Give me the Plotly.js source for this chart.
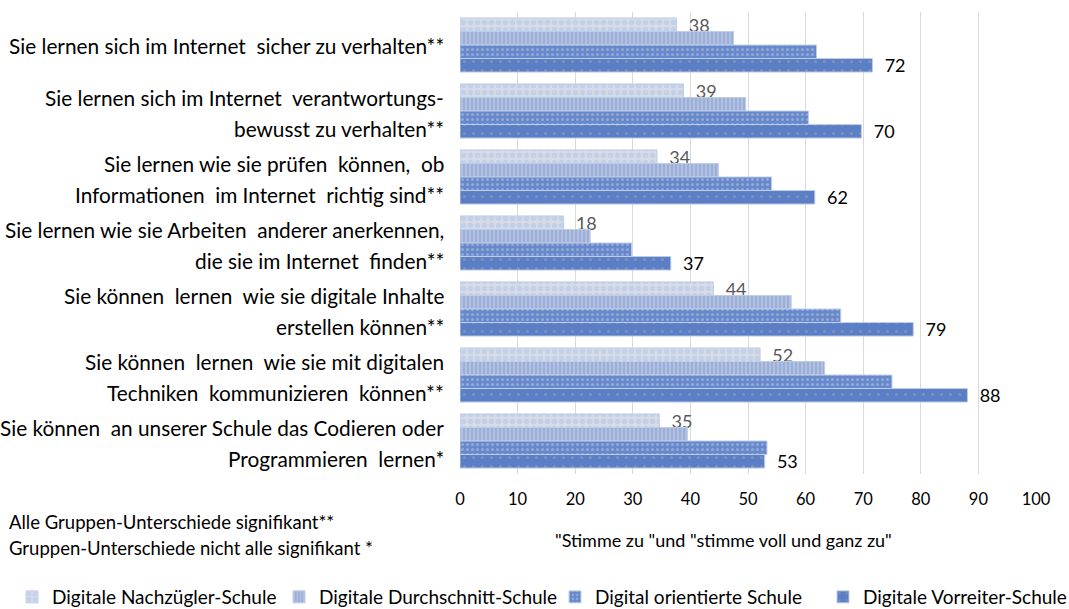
<!DOCTYPE html>
<html>
<head>
<meta charset="utf-8">
<script src="https://cdn.plot.ly/plotly-3.0.1.min.js"></script>
<style>html,body{margin:0;padding:0;background:#fff;}#chart{width:1069px;height:609px;}</style>
</head>
<body>
<div id="chart"></div>
<script>
const categories = [
  "Sie lernen sich im Internet  sicher zu verhalten**",
  "Sie lernen sich im Internet  verantwortungs-<br>bewusst zu verhalten**",
  "Sie lernen wie sie prüfen  können,  ob<br>Informationen  im Internet  richtig sind**",
  "Sie lernen wie sie Arbeiten  anderer anerkennen,<br>die sie im Internet  finden**",
  "Sie können  lernen  wie sie digitale Inhalte<br>erstellen können**",
  "Sie können  lernen  wie sie mit digitalen<br>Techniken  kommunizieren  können**",
  "Sie können  an unserer Schule das Codieren oder<br>Programmieren  lernen*"
];
const seriesNames = ["Digitale Nachzügler-Schule", "Digitale Durchschnitt-Schule", "Digital orientierte Schule", "Digitale Vorreiter-Schule"];
const nachzuegler   = [37.6, 38.8, 34.2, 18.0, 44.0, 52.1, 34.6];
const durchschnitt  = [47.5, 49.6, 44.9, 22.6, 57.5, 63.3, 39.5];
const orientiert    = [61.9, 60.5, 54.1, 29.8, 66.1, 75.0, 53.3];
const vorreiter     = [71.6, 69.7, 61.6, 36.6, 78.7, 88.1, 52.9];
const xTickVals = [0, 10, 20, 30, 40, 50, 60, 70, 80, 90, 100];
const xAxisTitle = '"Stimme zu "und "stimme voll und ganz zu"';
const notes = ["Alle Gruppen-Unterschiede signifikant**", "Gruppen-Unterschiede nicht alle signifikant *"];

const FONT = "Lato, 'Open Sans', sans-serif";
const lineCol = 'rgba(190,205,232,1)';

function mk(name, vals, bg, fg, shape, size, sol, showText, textCol, legendId) {
  return {
    type: 'bar', orientation: 'h', name: name, legend: legendId,
    x: vals, y: categories,
    marker: {color: bg, line: {color: lineCol, width: 1},
      pattern: {shape: shape, bgcolor: bg, fgcolor: fg, size: size, solidity: sol}},
    texttemplate: showText ? '\u00a0\u00a0%{x:.0f}' : undefined,
    textposition: showText ? 'outside' : 'none',
    constraintext: 'none',
    cliponaxis: false,
    textfont: {family: FONT, size: 18, color: textCol},
    hoverinfo: 'x+name'
  };
}

const data = [
  mk(seriesNames[0], nachzuegler, '#d7dce5', '#c3d0ea', '.', 7, 0.5, true, '#595959', 'legend'),
  mk(seriesNames[1], durchschnitt, '#9cafd8', '#bcc8e3', '|', 4, 0.35, false, '#000', 'legend2'),
  mk(seriesNames[2], orientiert, '#6688cc', '#93a8d4', '.', 5, 0.3, false, '#000', 'legend3'),
  mk(seriesNames[3], vorreiter, '#5a7fc7', '#8090b4', '.', 9, 0.1, true, '#000000', 'legend4')
];

// plot area: left 460, right 1036, top 12, bottom 474 (pixels)
const px2paperX = p => (p - 460) / 576;
const px2paperY = p => (474 - p) / 462;

const annotations = [];
categories.forEach((c, i) => {
  const lines = c.split('<br>');
  const shifts = lines.length === 1 ? [0] : [14, -17];
  lines.forEach((ln, j) => {
    annotations.push({
      xref: 'paper', yref: 'y', x: 0, y: c, xshift: -14, yshift: shifts[j],
      xanchor: 'right', yanchor: 'middle', showarrow: false,
      text: ln, font: {family: FONT, size: 20.8, color: '#000'}
    });
  });
});
annotations.push({xref: 'paper', yref: 'paper', x: px2paperX(7), y: px2paperY(522),
  xanchor: 'left', yanchor: 'middle', showarrow: false, text: notes[0],
  font: {family: FONT, size: 18.5, color: '#000'}});
annotations.push({xref: 'paper', yref: 'paper', x: px2paperX(7), y: px2paperY(548),
  xanchor: 'left', yanchor: 'middle', showarrow: false, text: notes[1],
  font: {family: FONT, size: 18.5, color: '#000'}});
annotations.push({xref: 'paper', yref: 'paper', x: px2paperX(723), y: px2paperY(540),
  xanchor: 'center', yanchor: 'middle', showarrow: false, text: xAxisTitle,
  font: {family: FONT, size: 18, color: '#000'}});

function leg(xpx) {
  return {orientation: 'h', xref: 'container', yref: 'container', x: xpx / 1069, y: 1 - 597 / 609,
    xanchor: 'left', yanchor: 'middle', font: {family: FONT, size: 19, color: '#000'},
    bgcolor: 'rgba(0,0,0,0)', itemwidth: 30};
}

const layout = {
  width: 1069, height: 609,
  margin: {l: 460, r: 33, t: 12, b: 135},
  paper_bgcolor: '#fff', plot_bgcolor: '#fff',
  barmode: 'group', bargap: 0.18, bargroupgap: 0,
  font: {family: FONT, size: 16, color: '#000'},
  xaxis: {range: [0, 100], tickvals: xTickVals, showgrid: true, gridcolor: '#d9d9d9', gridwidth: 1,
    zeroline: false, showline: false, ticks: '', ticklabelstandoff: 13,
    tickfont: {family: FONT, size: 16.5, color: '#000'}, fixedrange: true},
  yaxis: {autorange: 'reversed', showticklabels: false, showgrid: false, zeroline: false, showline: false, ticks: ''},
  showlegend: true,
  legend: leg(12), legend2: leg(279), legend3: leg(555), legend4: leg(823),
  annotations: annotations
};

Plotly.newPlot('chart', data, layout, {displayModeBar: false, staticPlot: true});
</script>
</body>
</html>
